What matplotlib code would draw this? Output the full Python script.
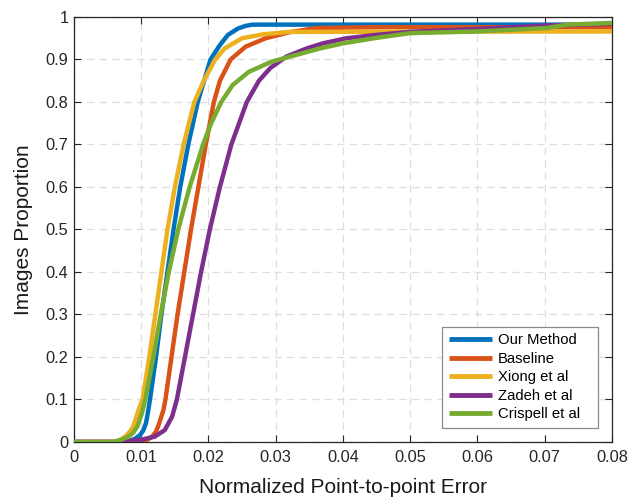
import matplotlib
matplotlib.use("Agg")
import matplotlib.pyplot as plt
from matplotlib.patches import Rectangle

plt.rcParams['font.family'] = ['Liberation Sans', 'DejaVu Sans']

# ---- data ----
ours_x = [0, 0.0078, 0.0087, 0.0092, 0.0098, 0.0103, 0.0107, 0.0110, 0.0113, 0.0122, 0.0130,
          0.0139, 0.0148, 0.0158, 0.0170, 0.0184, 0.0203, 0.0217, 0.0229, 0.0244, 0.0255,
          0.0265, 0.0800]
ours_y = [0, 0, 0.005, 0.009, 0.016, 0.027, 0.044, 0.07, 0.10, 0.20, 0.30,
          0.40, 0.50, 0.60, 0.70, 0.80, 0.90, 0.934, 0.958, 0.973, 0.979,
          0.982, 0.982]

base_x = [0, 0.0095, 0.0103, 0.0110, 0.0116, 0.0121, 0.0125, 0.0133, 0.0136, 0.0145, 0.0154,
          0.0164, 0.0174, 0.0185, 0.0196, 0.0208, 0.0217, 0.0233, 0.0255, 0.0285, 0.0320,
          0.0360, 0.0450, 0.0800]
base_y = [0, 0, 0.002, 0.006, 0.0125, 0.022, 0.036, 0.075, 0.10, 0.20, 0.30,
          0.40, 0.50, 0.60, 0.70, 0.80, 0.85, 0.90, 0.930, 0.950, 0.964,
          0.974, 0.976, 0.976]

xiong_x = [0, 0.0058, 0.0064, 0.0070, 0.0076, 0.0082, 0.0088, 0.0096, 0.0102, 0.0112, 0.0121,
           0.0130, 0.0139, 0.0150, 0.0163, 0.0179, 0.0193, 0.0210, 0.0224, 0.0250, 0.0280,
           0.0320, 0.0800]
xiong_y = [0, 0, 0.002, 0.006, 0.0125, 0.022, 0.036, 0.075, 0.10, 0.20, 0.30,
           0.40, 0.50, 0.60, 0.70, 0.80, 0.85, 0.90, 0.926, 0.950, 0.959,
           0.965, 0.966]

zadeh_x = [0, 0.0068, 0.0085, 0.0102, 0.0120, 0.0135, 0.0146, 0.0153, 0.0165, 0.0177, 0.0189,
           0.0202, 0.0217, 0.0234, 0.0257, 0.0275, 0.0292, 0.0316, 0.0346, 0.0370, 0.0405,
           0.0450, 0.0500, 0.0600, 0.0703, 0.0800]
zadeh_y = [0, 0, 0.003, 0.006, 0.0125, 0.028, 0.06, 0.10, 0.20, 0.30, 0.40,
           0.50, 0.60, 0.70, 0.80, 0.85, 0.88, 0.907, 0.926, 0.938, 0.950,
           0.958, 0.965, 0.972, 0.980, 0.984]

cris_x = [0, 0.0058, 0.0070, 0.0081, 0.0088, 0.0094, 0.0101, 0.0106, 0.0118, 0.0129, 0.0141,
          0.0155, 0.0172, 0.0192, 0.0204, 0.0219, 0.0236, 0.0260, 0.0294, 0.0331, 0.0366,
          0.0400, 0.0450, 0.0500, 0.0600, 0.0703, 0.0733, 0.0800]
cris_y = [0, 0, 0.005, 0.0125, 0.022, 0.036, 0.0675, 0.10, 0.20, 0.30, 0.40,
          0.50, 0.60, 0.70, 0.75, 0.80, 0.84, 0.871, 0.895, 0.911, 0.926,
          0.938, 0.951, 0.962, 0.966, 0.974, 0.982, 0.986]

series_names = ["Our Method", "Baseline", "Xiong et al", "Zadeh et al", "Crispell et al"]
series_colors = ["#0072BD", "#D95319", "#EDB120", "#7E2F8E", "#77AC30"]

x_ticks = [0, 0.01, 0.02, 0.03, 0.04, 0.05, 0.06, 0.07, 0.08]
x_tick_labels = ["0", "0.01", "0.02", "0.03", "0.04", "0.05", "0.06", "0.07", "0.08"]
y_ticks = [0, 0.1, 0.2, 0.3, 0.4, 0.5, 0.6, 0.7, 0.8, 0.9, 1.0]
y_tick_labels = ["0", "0.1", "0.2", "0.3", "0.4", "0.5", "0.6", "0.7", "0.8", "0.9", "1"]

# ---- figure ----
fig = plt.figure(figsize=(6.28, 4.97), dpi=100)
ax = fig.add_axes([0.1178, 0.1107, 0.8567, 0.8551])

data = [(ours_x, ours_y), (base_x, base_y), (xiong_x, xiong_y), (zadeh_x, zadeh_y), (cris_x, cris_y)]
for (xs, ys), name, col in zip(data, series_names, series_colors):
    ax.plot(xs, ys, color=col, linewidth=3.2, label=name, solid_joinstyle='round',
            solid_capstyle='butt', zorder=3)

ax.set_xlim(0, 0.08)
ax.set_ylim(0, 1)
ax.set_xticks(x_ticks)
ax.set_xticklabels(x_tick_labels)
ax.set_yticks(y_ticks)
ax.set_yticklabels(y_tick_labels)
ax.tick_params(direction='in', top=True, right=True, length=5, width=0.8,
               labelsize=11.8, colors='#262626')
ax.tick_params(axis='x', pad=6)
ax.tick_params(axis='y', pad=4)
for s in ax.spines.values():
    s.set_color('#262626')
    s.set_linewidth(0.9)

ax.grid(True, linestyle=(0, (6, 4)), color='#dedede', linewidth=0.9, zorder=0)
ax.set_axisbelow(True)

ax.set_xlabel("Normalized Point-to-point Error", fontsize=15, color='#1a1a1a', labelpad=9)
ax.set_ylabel("Images Proportion", fontsize=15, color='#1a1a1a', labelpad=9)

leg = ax.legend(loc='lower left', bbox_to_anchor=(0.684, 0.033), fontsize=10.7,
                frameon=False, borderpad=0.45,
                handlelength=2.9, handletextpad=0.4, labelspacing=0.3, borderaxespad=0)
for h in leg.get_lines():
    h.set_linewidth(3.5)
leg.set_zorder(6)

# frame with MATLAB-like extra right padding
fig.canvas.draw()
bb = leg.get_window_extent()
inv = ax.transAxes.inverted()
(x0, y0) = inv.transform((bb.x0, bb.y0))
(x1, y1) = inv.transform((bb.x1 + 11, bb.y1))
ax.add_patch(Rectangle((x0, y0), x1 - x0, y1 - y0, transform=ax.transAxes,
                       facecolor='white', edgecolor='#8a8a8a', linewidth=0.9, zorder=5))

fig.savefig("out.png", dpi=100)
